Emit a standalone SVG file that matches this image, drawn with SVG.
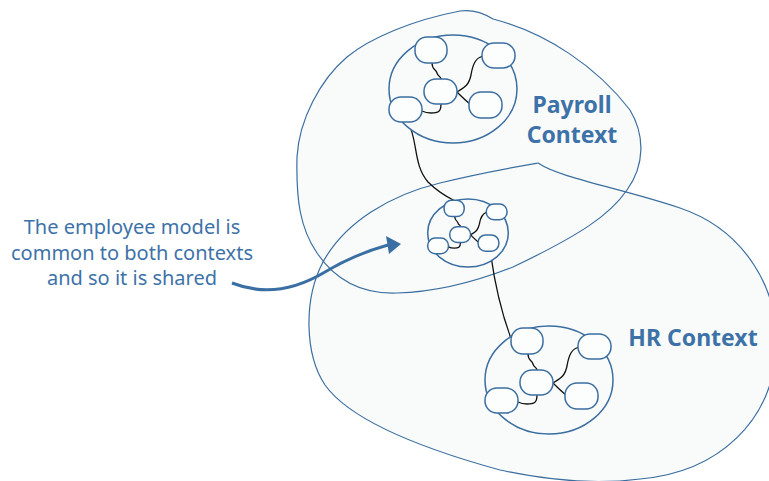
<svg xmlns="http://www.w3.org/2000/svg" xmlns:xlink="http://www.w3.org/1999/xlink" width="769" height="481" viewBox="0 0 769 481">
<style>
.blob{fill:#f9fbfb;stroke:none}
.blobline{fill:none;stroke:#3b6ea0;stroke-width:1.2}
.inner{fill:#f9fbfb;stroke:#3b6ea0;stroke-width:1.5;vector-effect:non-scaling-stroke}
.nd{fill:#fcfdfd;stroke:#3b6ea0;stroke-width:1.5;vector-effect:non-scaling-stroke}
.ln{fill:none;stroke:#111;stroke-width:1.3;vector-effect:non-scaling-stroke}
.lbl{font-family:"Noto Sans","Open Sans",sans-serif;font-size:20px;fill:#3d72a8;text-anchor:middle}
.ctx{font-family:"Noto Sans","Open Sans",sans-serif;font-weight:bold;font-size:23px;fill:#3d72a8;text-anchor:middle}
</style>
<defs>
<g id="cluster">
<ellipse class="inner" cx="0" cy="0" rx="64" ry="54"/>
<path class="ln" d="M-21,-26 C-21,-19 -17,-20 -16,-16 C-15,-12 -12,-13 -12,-10"/>
<path class="ln" d="M4,3 C12,-2 16,-4 18,-14 C20,-26 23,-31 30,-33"/>
<path class="ln" d="M4,3 C9,8 12,11 17,15"/>
<path class="ln" d="M-12,15 C-12,23 -15,24 -22,24 C-27,24 -29,23 -31,22"/>
<rect class="nd" x="-38" y="-52" width="32" height="26" rx="12"/>
<rect class="nd" x="29" y="-46" width="33" height="25" rx="12"/>
<rect class="nd" x="-29" y="-10" width="33" height="25" rx="12"/>
<rect class="nd" x="-64" y="8" width="33" height="25" rx="12"/>
<rect class="nd" x="16" y="3" width="33" height="26" rx="12"/>
</g>
</defs>
<path id="payrollFill" class="blob" d="M493,19 C547,33 597,67 630,110 C645,135 645,165 627,190 C610,215 580,235 513,267 C480,280 440,292 397,293 C370,294 340,287 317,253 C300,228 296,200 297,157 C299,120 320,80 347,57 C370,38 413,20 460,11 C475,9 485,14 493,19 Z"/>
<path id="hrFill" class="blob" d="M538,163 C560,178 620,188 680,208 C745,230 780,290 776,350 C772,420 720,472 640,479 C600,484 550,481 500,470 C420,448 350,420 325,385 C305,355 303,300 323,262 C345,222 390,195 440,183 C480,173 515,167 538,163 Z"/>
<g id="payroll-context">
<path class="blobline" d="M493,19 C547,33 597,67 630,110 C645,135 645,165 627,190 C610,215 580,235 513,267 C480,280 440,292 397,293 C370,294 340,287 317,253 C300,228 296,200 297,157 C299,120 320,80 347,57 C370,38 413,20 460,11 C475,9 485,14 493,19 Z"/>
<text class="ctx" x="572" y="113">Payroll</text>
<text class="ctx" x="572" y="143">Context</text>
</g>
<g id="hr-context">
<path class="blobline" d="M538,163 C560,178 620,188 680,208 C745,230 780,290 776,350 C772,420 720,472 640,479 C600,484 550,481 500,470 C420,448 350,420 325,385 C305,355 303,300 323,262 C345,222 390,195 440,183 C480,173 515,167 538,163 Z"/>
<text class="ctx" x="693" y="346">HR Context</text>
</g>
<g id="connectors">
<path class="ln" d="M408,122 C418,140 413,165 428,182 C438,192 447,197 455,201"/>
<path class="ln" d="M490,249 C494,280 502,315 512,341"/>
<path d="M232,283 C265,296 295,290 325,272 C350,257 370,250 388,245" fill="none" stroke="#3a6fa3" stroke-width="3"/>
<polygon points="386,236 401,244 389,254" fill="#3a6fa3"/>
</g>
<g id="payroll-model"><use xlink:href="#cluster" transform="translate(453,89)"/></g>
<g id="shared-model"><use xlink:href="#cluster" transform="translate(468,233) scale(0.63)"/></g>
<g id="hr-model"><use xlink:href="#cluster" transform="translate(549,380)"/></g>
<g id="note">
<text class="lbl" x="132" y="234">The employee model is</text>
<text class="lbl" x="132" y="260">common to both contexts</text>
<text class="lbl" x="132" y="285">and so it is shared</text>
</g>
</svg>
